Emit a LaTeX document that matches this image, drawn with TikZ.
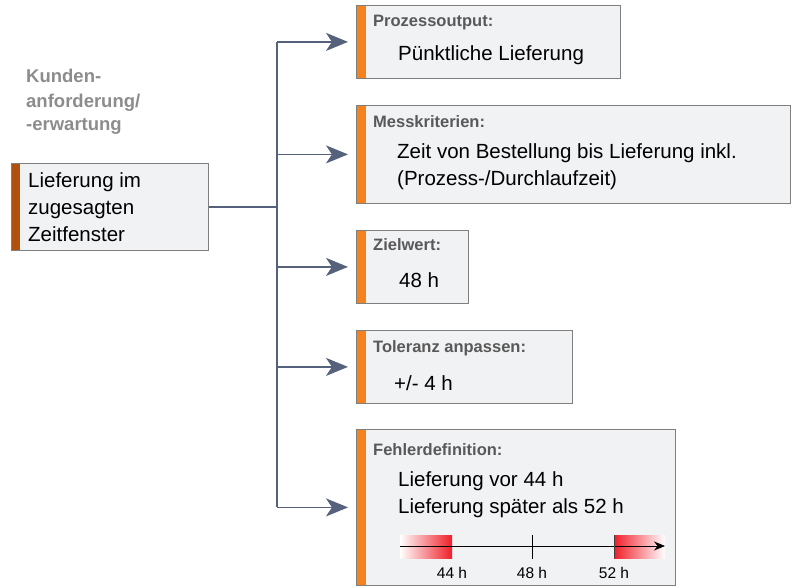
\documentclass[tikz,border=0pt]{standalone}
\usepackage{fontspec}
\setmainfont{Liberation Sans}
\usetikzlibrary{arrows.meta}

\definecolor{barorange}{HTML}{F5821F}
\definecolor{barbrown}{HTML}{B0520E}
\definecolor{boxfill}{HTML}{F1F2F4}
\definecolor{boxline}{HTML}{7F7F7F}
\definecolor{connblue}{HTML}{56617B}
\definecolor{headgray}{HTML}{595959}
\definecolor{titlegray}{HTML}{8C8C8C}
\definecolor{errred}{HTML}{F01E28}

\begin{document}
\begin{tikzpicture}[x=1pt, y=-1pt,
  infobox/.style={draw=boxline, fill=boxfill, line width=0.8pt, inner sep=0pt, anchor=north west},
  conn/.style={connblue, line width=1.8pt},
  arr/.style={conn, -{Stealth[length=22pt, width=18pt, inset=6pt]}, shorten >=8pt},
  head/.style={anchor=base west, inner sep=0pt, text=headgray, font=\fontsize{16.5}{18}\selectfont\bfseries},
  body/.style={anchor=base west, inner sep=0pt, align=left, font=\fontsize{20.5}{26.5}\selectfont},
  axlabel/.style={anchor=base, inner sep=0pt, font=\fontsize{15.5}{17}\selectfont}]
\useasboundingbox (0,0) rectangle (793,586);

% customer requirement (multi-line nodes sit on their last baseline)
\node[anchor=base west, inner sep=0pt, align=left, text=titlegray, font=\fontsize{18.5}{24}\selectfont\bfseries]
  (title) at (26,131) {Kunden-\\anforderung/\\-erwartung};
\node[infobox, minimum width=197pt, minimum height=87pt] (req) at (11,163) {};
\fill[barbrown] (req.north west) rectangle ([xshift=9pt]req.south west);
\draw[boxline, line width=0.8pt] (req.north west) rectangle (req.south east);
\node[body, font=\fontsize{20.5}{27}\selectfont] (reqtext) at (28,241) {Lieferung im\\zugesagten\\Zeitfenster};

% boxes on the right
\node[infobox, minimum width=264pt, minimum height=73pt] (output) at (356,5) {};
\node[infobox, minimum width=434pt, minimum height=98pt] (measure) at (356,105) {};
\node[infobox, minimum width=112pt, minimum height=73pt] (target) at (356,230) {};
\node[infobox, minimum width=216pt, minimum height=73pt] (tolerance) at (356,330) {};
\node[infobox, minimum width=319pt, minimum height=156pt] (error) at (356,429) {};
\foreach \b in {output, measure, target, tolerance, error} {
  \fill[barorange] (\b.north west) rectangle ([xshift=10pt]\b.south west);
  \draw[boxline, line width=0.8pt] (\b.north west) rectangle (\b.south east);
}

% connectors
\coordinate (trunk) at (277,0);
\draw[conn] (req.east) -- (req.east -| trunk);
\draw[conn] (output.west -| trunk) -- (error.west -| trunk);
\foreach \b in {output, measure, target, tolerance, error}
  \draw[arr] (\b.west -| trunk) -- (\b.west);

% texts
\node[head] (outhead) at (373,27) {Prozessoutput:};
\node[body] (outtext) at (398,61) {Pünktliche Lieferung};
\node[head] (meshead) at (373,127) {Messkriterien:};
\node[body] (mestext) at (397,185) {Zeit von Bestellung bis Lieferung inkl.\\(Prozess-/Durchlaufzeit)};
\node[head] (tarhead) at (373,250) {Zielwert:};
\node[body] (tartext) at (399,287) {48 h};
\node[head] (tolhead) at (373,352) {Toleranz anpassen:};
\node[body] (toltext) at (394,390) {+/- 4 h};
\node[head] (errhead) at (373,455) {Fehlerdefinition:};
\node[body] (errtext) at (398,513) {Lieferung vor 44 h\\Lieferung später als 52 h};

% time axis
\shade[left color=white, right color=errred] (400,535) rectangle (452,558);
\shade[left color=errred, right color=white] (614,535) rectangle (665,558);
\draw[line width=0.8pt, -{Stealth[length=11pt, width=9pt]}] (400,546) -- (665,546);
\draw[line width=0.8pt] (532,535) -- (532,559);
\draw[line width=1pt, darkgray] (614,535) -- (614,558);
\node[axlabel] (l44) at (452,578) {44 h};
\node[axlabel] (l48) at (532,578) {48 h};
\node[axlabel] (l52) at (614,578) {52 h};
\end{tikzpicture}
\end{document}
